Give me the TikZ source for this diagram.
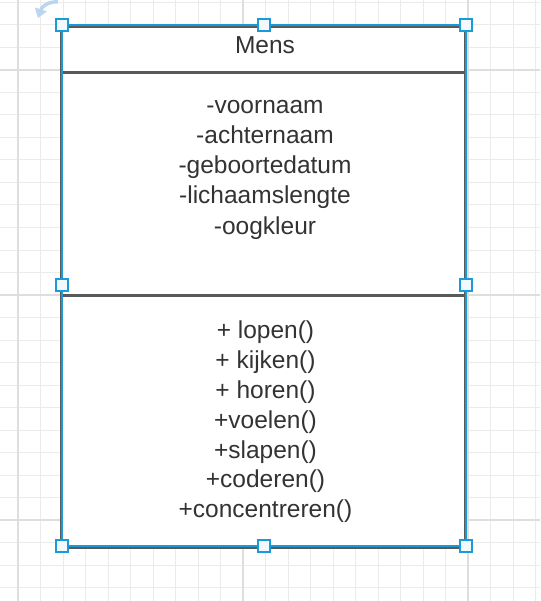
\documentclass[tikz,border=0pt]{standalone}
\usepackage{fontspec}
\setmainfont{Liberation Sans}
\usetikzlibrary{positioning,arrows.meta}
\definecolor{gridminor}{HTML}{EBEBEB}
\definecolor{gridmajor}{HTML}{DEDEDE}
\definecolor{boxgrey}{HTML}{595959}
\definecolor{selblue}{HTML}{1A9AD6}
\definecolor{handlefill}{HTML}{F2F8FC}
\definecolor{textgrey}{HTML}{333333}
\definecolor{rotblue}{HTML}{B8D6F2}

\begin{document}
\begin{tikzpicture}[
  x=1pt, y=-1pt,
  font=\fontsize{24.5}{30}\selectfont,
  >=Latex,
  txt/.style={anchor=base, text=textgrey, inner sep=0pt},
  handle/.style={draw=selblue, fill=handlefill, line width=1.3pt,
                 minimum size=12pt, inner sep=0pt},
  sep/.style={draw=boxgrey, line width=3pt},
]
  \useasboundingbox[fill=white] (0,0) rectangle (540,601);

  % grid
  \foreach \k in {-1,...,23}
    \draw[gridminor, line width=1pt] ({18+22.5*\k},0) -- ++(0,601);
  \foreach \k in {-3,...,23}
    \draw[gridminor, line width=1pt] (0,{70+22.5*\k}) -- ++(540,0);
  \foreach \gx in {18,243,468}
    \draw[gridmajor, line width=2pt] (\gx,0) -- ++(0,601);
  \foreach \gy in {70,295,520}
    \draw[gridmajor, line width=2pt] (0,\gy) -- ++(540,0);

  % class box
  \coordinate (nw) at (62,25);
  \coordinate (se) at (466,546);
  \fill[white] (nw) rectangle (se);
  \draw[boxgrey, line width=2.5pt] (61,26.5) rectangle (465,547.5);
  \draw[sep] (nw |- 0,73) coordinate (s1) -- (se |- 0,73);
  \draw[sep] (nw |- 0,295) coordinate (s2) -- (se |- 0,295);
  \draw[selblue, line width=1.8pt] (nw) rectangle (se);

  % name
  \node[txt] (name) at (265,54) {Mens};

  % attributes
  \foreach \a [count=\i] in {-voornaam,-achternaam,-geboortedatum,
                             -lichaamslengte,-oogkleur}
    \node[txt] (attr\i) at (265,{84+30*\i}) {\a};

  % methods
  \foreach \m [count=\i] in {+ lopen(),+ kijken(),+ horen(),+voelen(),
                             +slapen(),+coderen(),+concentreren()}
    \node[txt] (meth\i) at (265.5,{309+29.8*\i}) {\m};

  % selection handles
  \foreach \hx/\hy [count=\i] in {62/25,264/25,466/25,62/285,466/285,
                                  62/546,264/546,466/546}
    \node[handle] (h\i) at (\hx,\hy) {};

  % rotate handle
  \draw[rotblue, line width=3.5pt, -{Triangle[length=9pt,width=12pt]}]
    (58,2) .. controls (50,1) and (42,6) .. (38,18);
\end{tikzpicture}
\end{document}
